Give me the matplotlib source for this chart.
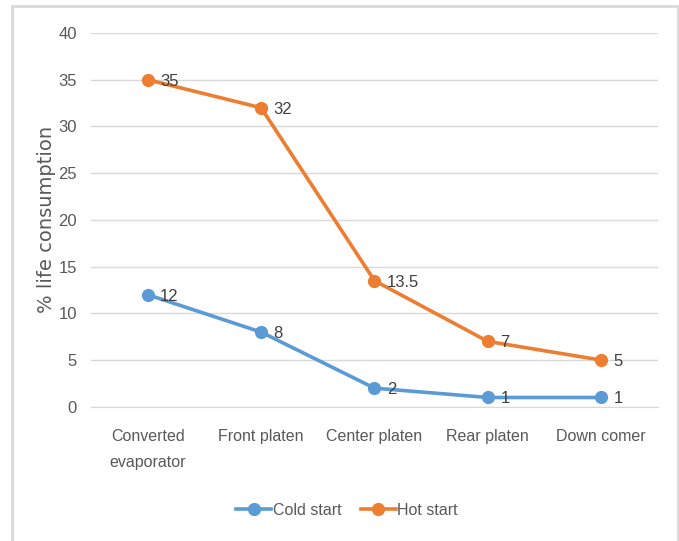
import matplotlib.pyplot as plt
from matplotlib.patches import Rectangle

# 各部件寿命消耗数据
categories = ["Converted\nevaporator", "Front platen", "Center platen", "Rear platen", "Down comer"]
cold_start = [12, 8, 2, 1, 1]
hot_start = [35, 32, 13.5, 7, 5]
yticks = [0, 5, 10, 15, 20, 25, 30, 35, 40]

plt.rcParams['font.family'] = ['Liberation Sans', 'DejaVu Sans']
text_color = '#595959'

fig = plt.figure(figsize=(6.79, 5.41), dpi=100)
ax = fig.add_axes([0.134, 0.248, 0.835, 0.691])

x = range(len(categories))
ax.plot(x, cold_start, color='#5B9BD5', lw=2.6, marker='o', ms=8.5, label="Cold start")
ax.plot(x, hot_start, color='#ED7D31', lw=2.6, marker='o', ms=8.5, label="Hot start")

# 数据标签
for i, v in enumerate(cold_start):
    ax.annotate("%g" % v, (i, v), xytext=(9, -1), textcoords='offset points',
                va='center', ha='left', fontsize=12, color='#404040')
for i, v in enumerate(hot_start):
    ax.annotate("%g" % v, (i, v), xytext=(9, -1), textcoords='offset points',
                va='center', ha='left', fontsize=12, color='#404040')

ax.set_xlim(-0.5, 4.5)
ax.set_ylim(0, 40)
ax.set_yticks(yticks)
ax.set_xticks(list(x))
ax.set_xticklabels(categories, fontsize=11.5, color=text_color, linespacing=1.9)
ax.tick_params(axis='y', labelsize=12, labelcolor=text_color, length=0, pad=10)
ax.tick_params(axis='x', length=0, pad=16)
ax.grid(axis='y', color='#D9D9D9', lw=1)
ax.set_axisbelow(True)
for s in ax.spines.values():
    s.set_visible(False)
ax.spines['bottom'].set_visible(True)
ax.spines['bottom'].set_color('#D9D9D9')

ax.set_ylabel("% life consumption", fontsize=14, color=text_color, labelpad=1.5,
              family=['DejaVu Sans'])

fig.legend(loc='center', bbox_to_anchor=(0.511, 0.057), ncol=2, frameon=False,
           fontsize=11.5, labelcolor=text_color, handlelength=2.2, columnspacing=1.2,
           handletextpad=0.1)

# 外框
fig.add_artist(Rectangle((12 / 679, -0.02), 666 / 679, 1 - 6 / 541 + 0.02,
                         transform=fig.transFigure, fill=False,
                         edgecolor='#D9D9D9', lw=2))

fig.savefig("out.png", dpi=100)
